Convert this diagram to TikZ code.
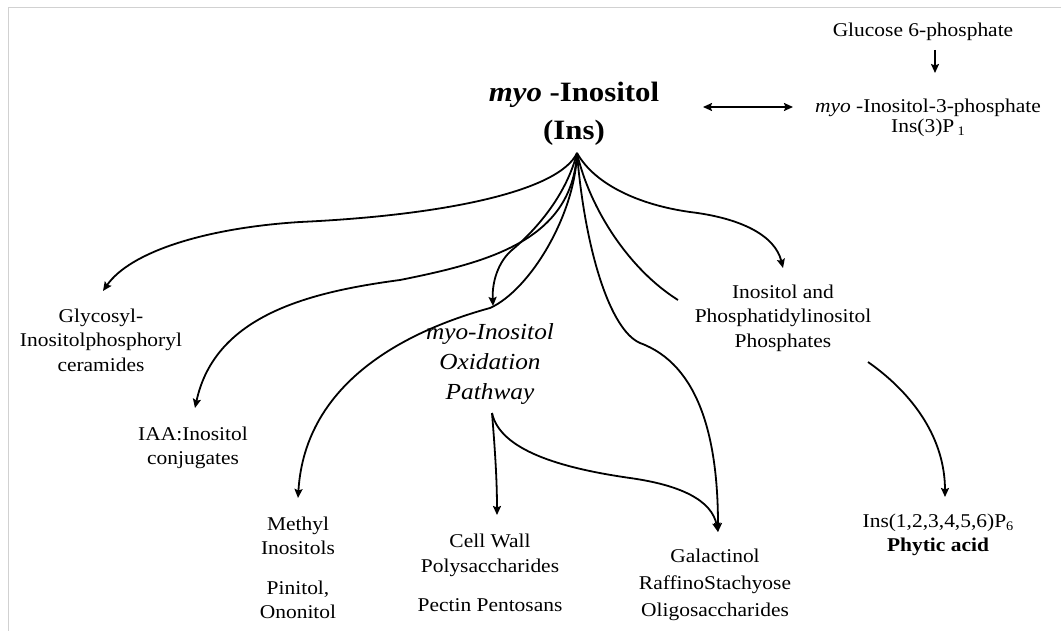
\documentclass[tikz,border=0pt]{standalone}
\usepackage{fontspec}
\setmainfont[FakeStretch=1.1]{Liberation Serif}
\usetikzlibrary{arrows.meta}
\newcommand\lowsub[1]{\raisebox{-0.35ex}{\fontsize{13}{13}\selectfont #1}}
\begin{document}
\begin{tikzpicture}[x=1pt,y=-1pt,
  txt/.style={align=center, inner sep=0pt, font=\fontsize{19.5}{24.5}\selectfont},
  ital/.style={align=center, inner sep=0pt, font=\fontsize{23}{30}\selectfont\itshape},
  head/.style={align=center, inner sep=0pt, font=\fontsize{28}{38}\selectfont\bfseries},
  tip/.style={-{Stealth[length=9pt,width=8pt,inset=1.5pt]}},
  link/.style={line width=1.8pt, tip},
  line/.style={line width=1.8pt},
  frame/.style={draw=black!18, line width=1pt}
]
\useasboundingbox (0,0) rectangle (1061,631);
\draw[frame] (8,631) -- (8,8) -- (1061,8);

% compounds
\node[head] (ins) at (574,114) {\textit{myo} -Inositol\\(Ins)};
\node[txt] (gluc) at (923,32) {Glucose 6-phosphate};
\node[txt, font=\fontsize{19.5}{20}\selectfont] (i3p) at (928,118) {\textit{myo} -Inositol-3-phosphate\\Ins(3)P\,\lowsub{1}};
\node[txt] (gly) at (101,340) {Glycosyl-\\Inositolphosphoryl\\ceramides};
\node[txt] (iaa) at (193,448) {IAA:Inositol\\conjugates};
\node[ital] (ox) at (490,364) {myo-Inositol\\Oxidation\\Pathway};
\node[txt] (ip) at (783,318) {Inositol and\\Phosphatidylinositol\\Phosphates};
\node[txt] (met) at (298,568) {Methyl\\Inositols\\[15pt]Pinitol,\\Ononitol};
\node[txt] (cw) at (490,573) {Cell Wall\\Polysaccharides\\[15pt]Pectin Pentosans};
\node[txt, font=\fontsize{19.5}{27}\selectfont] (gal) at (715,585) {Galactinol\\RaffinoStachyose\\Oligosaccharides};
\node[txt] (phy) at (938,535) {Ins(1,2,3,4,5,6)P\lowsub{6}\\\textbf{Phytic acid}};

% connector end points
\coordinate (hub) at (577,153);
\coordinate (dA) at (703,107);
\coordinate (dB) at (793,107);
\coordinate (gDown) at (935,50);
\coordinate (gTip) at (935,73);
\coordinate (tGly) at (103,291);
\coordinate (tIAA) at (195,408);
\coordinate (tMet) at (298,498);
\coordinate (tOx) at (493,306);
\coordinate (tIP) at (783,268);
\coordinate (ePI) at (678,300);
\coordinate (tGal) at (718,532);
\coordinate (sIP) at (868,362);
\coordinate (tPhy) at (945,497);
\coordinate (sOx) at (492,413);
\coordinate (tCW) at (497,515);

% connectors
\draw[line width=1.8pt, {Stealth[length=9pt,width=8pt,inset=1.5pt]}-{Stealth[length=9pt,width=8pt,inset=1.5pt]}] (dA) -- (dB);
\draw[link] (gDown) -- (gTip);

% branches leaving myo-inositol
\draw[link] (hub) .. controls (560,190) and (450,215) .. (300,222)
                  .. controls (205,228) and (130,252) .. (tGly);
\draw[link] (hub) .. controls (572,240) and (490,262) .. (400,280)
                  .. controls (310,292) and (215,315) .. (tIAA);
\draw[link] (hub) .. controls (575,215) and (530,290) .. (490,308)
                  .. controls (410,330) and (305,380) .. (tMet);
\draw[link] (hub) .. controls (565,200) and (530,235) .. (512,250)
                  .. controls (498,262) and (492,282) .. (tOx);
\draw[link] (hub) .. controls (585,250) and (610,330) .. (640,343)
                  .. controls (700,365) and (718,440) .. (tGal);
\draw[line] (hub) .. controls (590,210) and (630,270) .. (ePI);
\draw[link] (hub) .. controls (595,185) and (640,205) .. (690,212)
                  .. controls (740,218) and (775,235) .. (tIP);

% downstream steps
\draw[link] (sIP) .. controls (915,395) and (945,440) .. (tPhy);
\draw[link] (sOx) .. controls (495,450) and (497,480) .. (tCW);
\draw[link] (sOx) .. controls (500,450) and (560,468) .. (630,478)
                  .. controls (680,485) and (712,500) .. (tGal);
\end{tikzpicture}
\end{document}
